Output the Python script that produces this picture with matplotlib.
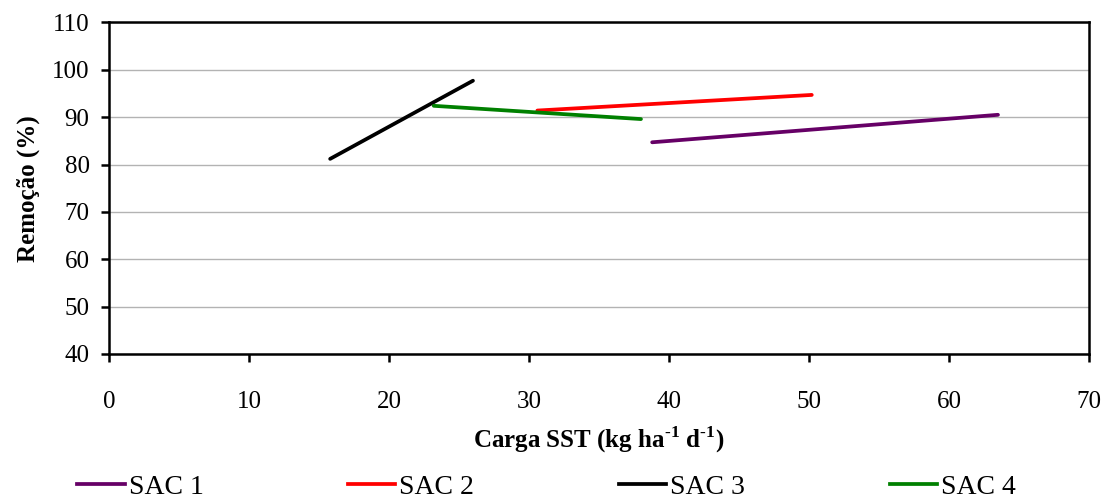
import matplotlib.pyplot as plt
from matplotlib.lines import Line2D

plt.rcParams["font.family"] = ["Liberation Serif", "DejaVu Serif"]
plt.rcParams["mathtext.fontset"] = "custom"
plt.rcParams["mathtext.rm"] = "Liberation Serif:bold"
plt.rcParams["mathtext.bf"] = "Liberation Serif:bold"

# SST load (kg/ha/d) vs removal (%) for each system, fitted line endpoints
sac1_x = [38.8, 63.5]
sac1_y = [84.7, 90.5]
sac2_x = [30.6, 50.2]
sac2_y = [91.4, 94.7]
sac3_x = [15.8, 26.0]
sac3_y = [81.2, 97.7]
sac4_x = [23.2, 38.0]
sac4_y = [92.4, 89.6]

labels = ["SAC 1", "SAC 2", "SAC 3", "SAC 4"]
colors = ["#660066", "#ff0000", "#000000", "#008000"]

fig = plt.figure(figsize=(11.05, 4.99), dpi=100)
ax = fig.add_axes([0.0986, 0.2906, 0.8869, 0.6644])

series = [(sac1_x, sac1_y), (sac2_x, sac2_y), (sac3_x, sac3_y), (sac4_x, sac4_y)]
for (xs, ys), lab, col in zip(series, labels, colors):
    ax.plot(xs, ys, color=col, lw=2.7, solid_capstyle="round", label=lab, zorder=3)

ax.set_xlim(0, 70)
ax.set_ylim(40, 110)
ax.set_xticks(range(0, 71, 10))
ax.set_yticks(range(40, 111, 10))
ax.yaxis.grid(True, color="#b3b3b3", lw=1.0)
ax.set_axisbelow(True)

for sp in ax.spines.values():
    sp.set_linewidth(1.8)
ax.tick_params(axis="both", direction="out", length=6, width=1.8, labelsize=18)
ax.tick_params(axis="x", pad=21)
ax.tick_params(axis="y", pad=8)

ax.set_ylabel("Remoção (%)", fontsize=18, fontweight="bold", labelpad=9)
ax.set_xlabel(r"Carga SST (kg ha$^{\text{-1}}$ d$^{\text{-1}}$)", fontsize=18,
              fontweight="bold", labelpad=8)

handles = [Line2D([0], [0], color=c, lw=2.7) for c in colors]
fig.legend(handles, labels, loc="lower center", bbox_to_anchor=(0.4946, -0.052), ncol=4,
           frameon=False, fontsize=20, handlelength=1.7, handletextpad=0.15,
           columnspacing=5.2)

fig.savefig("out.png", dpi=100)
